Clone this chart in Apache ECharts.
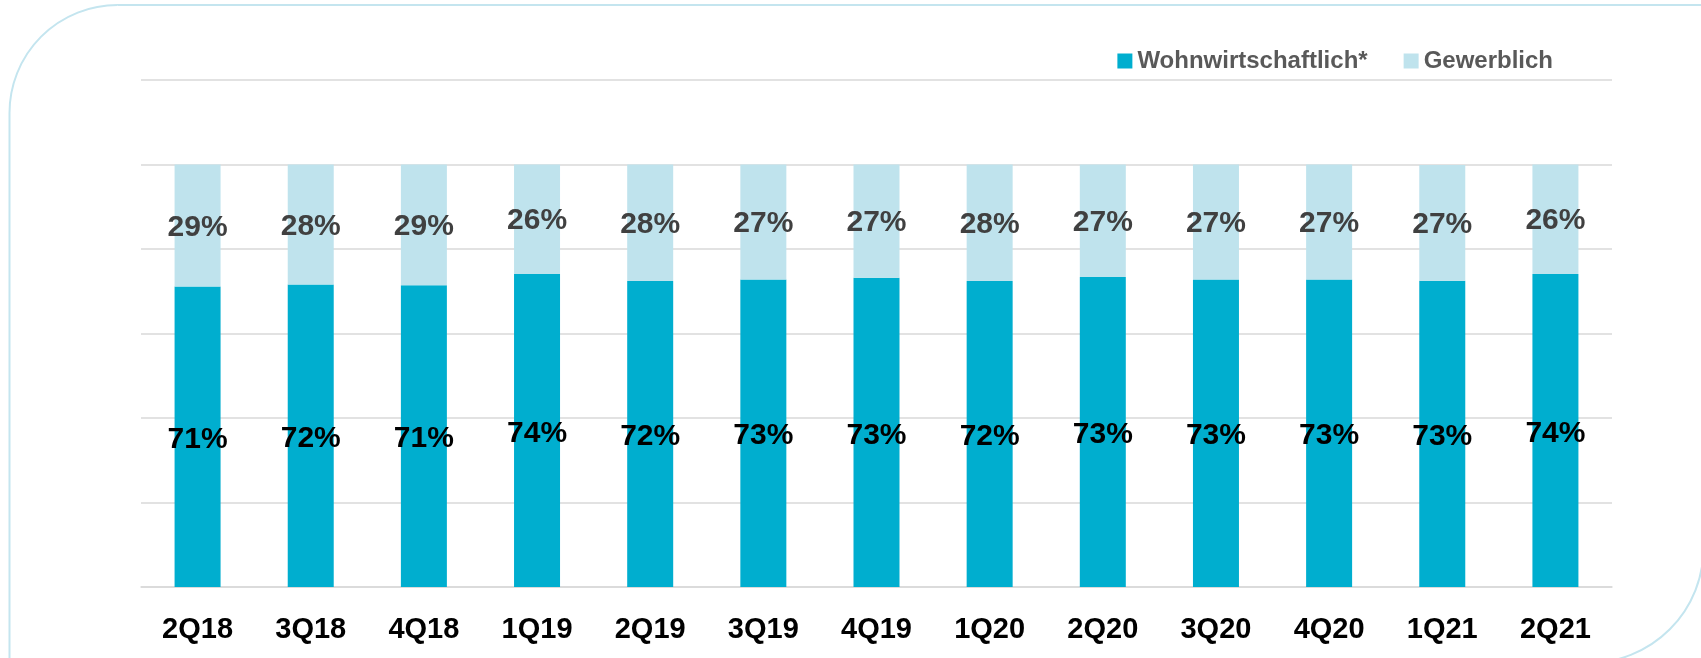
<!DOCTYPE html>
<html>
<head>
<meta charset="utf-8">
<script src="https://cdn.jsdelivr.net/npm/echarts/dist/echarts.min.js"></script>
<style>
html, body { margin: 0; padding: 0; background: #fff; }
#main { width: 1701px; height: 658px; }
</style>
</head>
<body>
<div id="main"></div>
<script>
// Quartale
const quarters = ['2Q18', '3Q18', '4Q18', '1Q19', '2Q19', '3Q19', '4Q19', '1Q20', '2Q20', '3Q20', '4Q20', '1Q21', '2Q21'];
// Anteile in % (Beschriftung gerundet)
const wohnwirtschaftlich = [71.1, 71.6, 71.4, 74.1, 72.4, 72.8, 73.2, 72.4, 73.4, 72.8, 72.8, 72.5, 74.1];
const gewerblich = [28.9, 28.4, 28.6, 25.9, 27.6, 27.2, 26.8, 27.6, 26.6, 27.2, 27.2, 27.4, 25.9];

const font = 'Liberation Sans';

let myChart = echarts.init(document.getElementById('main'));
let option = {
	backgroundColor: '#fff',
	textStyle: { fontFamily: font },
	graphic: [{
		type: 'rect',
		silent: true,
		z: -1,
		shape: { x: 9.5, y: 5, width: 1694, height: 658, r: [108, 0, 115, 0] },
		style: { fill: 'none', stroke: '#c4e5ef', lineWidth: 2 }
	}],
	legend: {
		data: ['Wohnwirtschaftlich*', 'Gewerblich'],
		right: 148,
		top: 49,
		padding: 0,
		itemGap: 36,
		itemWidth: 15,
		itemHeight: 15,
		icon: 'rect',
		textStyle: { color: '#595959', fontSize: 24, fontWeight: 'bold', fontFamily: font }
	},
	grid: { left: 141, right: 89, top: 80, bottom: 71 },
	xAxis: {
		type: 'category',
		data: quarters,
		axisLine: { lineStyle: { color: '#d9d9d9', width: 1.5 } },
		axisTick: { show: false },
		axisLabel: { color: '#000', fontSize: 29, fontWeight: 'bold', fontFamily: font, margin: 28 }
	},
	yAxis: {
		type: 'value',
		min: 0,
		max: 120,
		interval: 20,
		axisLabel: { show: false },
		axisLine: { show: false },
		axisTick: { show: false },
		splitLine: { lineStyle: { color: '#d9d9d9', width: 1.5 } }
	},
	series: [
		{
			name: 'Wohnwirtschaftlich*',
			type: 'bar',
			stack: 'anteil',
			barWidth: 46,
			data: wohnwirtschaftlich,
			itemStyle: { color: '#00aecf' },
			label: {
				show: true,
				position: 'inside',
				offset: [0, 3],
				formatter: function (p) { return Math.round(p.value) + '%'; },
				color: '#000',
				fontSize: 30,
				fontWeight: 'bold',
				fontFamily: font
			}
		},
		{
			name: 'Gewerblich',
			type: 'bar',
			stack: 'anteil',
			barWidth: 46,
			data: gewerblich,
			itemStyle: { color: '#bfe3ed' },
			label: {
				show: true,
				position: 'inside',
				offset: [0, 2],
				formatter: function (p) { return Math.round(p.value) + '%'; },
				color: '#404040',
				fontSize: 30,
				fontWeight: 'bold',
				fontFamily: font
			}
		}
	]
};
myChart.setOption(option);
</script>
</body>
</html>
